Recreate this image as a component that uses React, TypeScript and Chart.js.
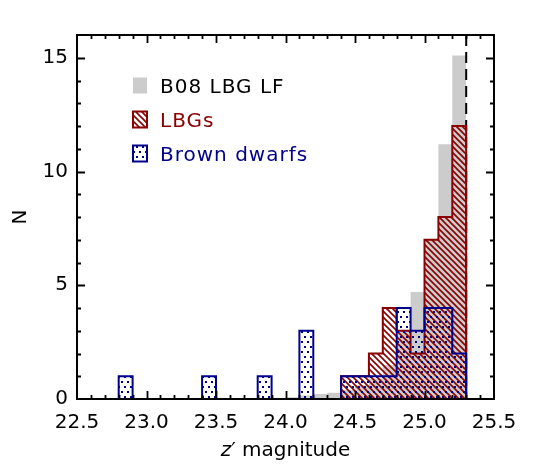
import React, { useEffect, useRef } from "react";
import { Chart, registerables } from "chart.js";

Chart.register(...registerables);

// ---- data ----
const BIN_WIDTH = 0.1;
const lfBins = [24.0, 24.1, 24.2, 24.3, 24.4, 24.5, 24.6, 24.7, 24.8, 24.9, 25.0, 25.1, 25.2];
const lfCounts = [0.08, 0.15, 0.22, 0.28, 0.4, 0.6, 0.9, 1.5, 3.0, 4.7, 7.0, 11.2, 15.1];
const lbgBins = [24.4, 24.5, 24.6, 24.7, 24.8, 24.9, 25.0, 25.1, 25.2];
const lbgCounts = [1, 1, 2, 4, 3, 2, 7, 8, 12];
const bdBins = [22.8, 23.4, 23.8, 24.1, 24.4, 24.5, 24.6, 24.7, 24.8, 24.9, 25.0, 25.1, 25.2];
const bdCounts = [1, 1, 1, 3, 1, 1, 1, 1, 4, 3, 4, 4, 2];
const xTicks = [22.5, 23.0, 23.5, 24.0, 24.5, 25.0, 25.5];
const yTicks = [0, 5, 10, 15];
const limitMag = 25.3;
const legendLabels = ["B08 LBG LF", "LBGs", "Brown dwarfs"];
const xTitleItalic = "z";
const xTitleRest = "\u2032 magnitude";
const yTitle = "N";

const X_MIN = 22.5;
const X_MAX = 25.5;
const Y_MIN = 0;
const Y_MAX = 16;

const GRAY = "#cccccc";
const DARKRED = "#8b0000";
const NAVY = "#00008b";
const FONT = "'DejaVu Sans', sans-serif";

function stepPoints(starts: number[], counts: number[], width: number) {
  const pts: { x: number; y: number }[] = [];
  let end: number | null = null;
  starts.forEach((s, i) => {
    if (end === null || Math.abs(end - s) > 1e-6) {
      if (end !== null) pts.push({ x: end, y: 0 });
      pts.push({ x: s, y: 0 });
    }
    pts.push({ x: s, y: counts[i] });
    end = Math.round((s + width) * 1000) / 1000;
  });
  if (end !== null) pts.push({ x: end, y: 0 });
  return pts;
}

function makeHatch(ctx: CanvasRenderingContext2D, color: string) {
  const c = document.createElement("canvas");
  c.width = 6;
  c.height = 6;
  const g = c.getContext("2d")!;
  g.strokeStyle = color;
  g.lineWidth = 1.6;
  g.beginPath();
  g.moveTo(-1, -1);
  g.lineTo(7, 7);
  g.moveTo(-1, 5);
  g.lineTo(1, 7);
  g.moveTo(5, -1);
  g.lineTo(7, 1);
  g.stroke();
  return ctx.createPattern(c, "repeat")!;
}

function makeDots(ctx: CanvasRenderingContext2D, color: string) {
  const c = document.createElement("canvas");
  c.width = 6;
  c.height = 10;
  const g = c.getContext("2d")!;
  g.fillStyle = color;
  g.fillRect(1, 1, 2, 2);
  g.fillRect(4, 6, 2, 2);
  return ctx.createPattern(c, "repeat")!;
}

export default function App() {
  const ref = useRef<HTMLCanvasElement | null>(null);

  useEffect(() => {
    const canvas = ref.current!;
    const ctx = canvas.getContext("2d")!;
    const hatch = makeHatch(ctx, DARKRED);
    const dots = makeDots(ctx, NAVY);

    const framePlugin = {
      id: "frame",
      afterDatasetDraw(chart: any, args: any) {
        if (args.index !== 2) return;
        const c = chart.ctx;
        const a = chart.chartArea;
        const x = chart.scales.x.getPixelForValue(limitMag);
        c.save();
        c.strokeStyle = "#000";
        c.lineWidth = 2;
        c.setLineDash([11, 6]);
        c.beginPath();
        c.moveTo(x, a.top);
        c.lineTo(x, a.bottom);
        c.stroke();
        c.restore();
      },
      afterDraw(chart: any) {
        const c: CanvasRenderingContext2D = chart.ctx;
        const a = chart.chartArea;
        const xs = chart.scales.x;
        const ys = chart.scales.y;
        c.save();
        c.strokeStyle = "#000";
        c.lineWidth = 2;
        c.setLineDash([]);
        c.strokeRect(a.left, a.top, a.right - a.left, a.bottom - a.top);
        c.lineWidth = 1.8;
        c.beginPath();
        const nx = Math.round((X_MAX - X_MIN) / 0.1);
        for (let i = 1; i < nx; i++) {
          const v = X_MIN + i * 0.1;
          const px = Math.round(xs.getPixelForValue(v)) + 0.5;
          const len = i % 5 === 0 ? 8 : 4;
          c.moveTo(px, a.bottom);
          c.lineTo(px, a.bottom - len);
          c.moveTo(px, a.top);
          c.lineTo(px, a.top + len);
        }
        for (let v = Y_MIN + 1; v < Y_MAX; v++) {
          const py = Math.round(ys.getPixelForValue(v)) + 0.5;
          const len = v % 5 === 0 ? 8 : 4;
          c.moveTo(a.left, py);
          c.lineTo(a.left + len, py);
          c.moveTo(a.right, py);
          c.lineTo(a.right - len, py);
        }
        c.stroke();

        // legend
        const lx = a.left + 56;
        const rows = [a.top + 50.5, a.top + 84.5, a.top + 118.5];
        const fills = [GRAY, hatch, dots];
        const borders = [null, DARKRED, NAVY];
        const colors = ["#000", DARKRED, NAVY];
        c.font = `20px ${FONT}`;
        (c as any).letterSpacing = "1px";
        c.textAlign = "left";
        c.textBaseline = "alphabetic";
        legendLabels.forEach((lab, i) => {
          const cy = rows[i];
          c.fillStyle = fills[i] as any;
          c.fillRect(lx, cy - 8, 14, 16);
          if (borders[i]) {
            c.strokeStyle = borders[i] as string;
            c.lineWidth = 2;
            c.strokeRect(lx, cy - 8, 14, 16);
          }
          c.fillStyle = colors[i];
          c.fillText(lab, lx + 27, cy + 7);
        });
        (c as any).letterSpacing = "0px";

        // x title
        c.fillStyle = "#000";
        c.font = `italic 20px ${FONT}`;
        const w1 = c.measureText(xTitleItalic).width;
        c.font = `20px ${FONT}`;
        const w2 = c.measureText(xTitleRest).width;
        const cx = (a.left + a.right) / 2;
        const startX = cx - (w1 + w2) / 2;
        c.font = `italic 20px ${FONT}`;
        c.fillText(xTitleItalic, startX, 456);
        c.font = `20px ${FONT}`;
        c.fillText(xTitleRest, startX + w1, 456);

        // y title
        c.translate(25.5, (a.top + a.bottom) / 2);
        c.rotate(-Math.PI / 2);
        c.textAlign = "center";
        c.fillText(yTitle, 0, 0);
        c.restore();
      },
    };

    const chart = new Chart(canvas, {
      type: "line",
      data: {
        datasets: [
          {
            label: legendLabels[2],
            data: stepPoints(bdBins, bdCounts, BIN_WIDTH),
            stepped: true,
            borderColor: NAVY,
            borderWidth: 2,
            backgroundColor: dots,
            fill: "origin",
            pointRadius: 0,
            borderJoinStyle: "miter",
            order: 0,
          },
          {
            label: legendLabels[1],
            data: stepPoints(lbgBins, lbgCounts, BIN_WIDTH),
            stepped: true,
            borderColor: DARKRED,
            borderWidth: 2,
            backgroundColor: hatch,
            fill: "origin",
            pointRadius: 0,
            borderJoinStyle: "miter",
            order: 1,
          },
          {
            label: legendLabels[0],
            data: stepPoints(lfBins, lfCounts, BIN_WIDTH),
            stepped: true,
            borderColor: GRAY,
            borderWidth: 0,
            backgroundColor: GRAY,
            fill: "origin",
            pointRadius: 0,
            order: 2,
          },
        ],
      } as any,
      options: {
        animation: false,
        responsive: false,
        devicePixelRatio: 1,
        layout: { padding: { left: 0, top: 35, right: 56, bottom: 0 } },
        plugins: { legend: { display: false }, tooltip: { enabled: false } },
        scales: {
          x: {
            type: "linear",
            min: X_MIN,
            max: X_MAX,
            grid: { display: false, drawTicks: false },
            border: { display: false },
            afterBuildTicks: (s: any) => {
              s.ticks = xTicks.map((v) => ({ value: v }));
            },
            afterFit: (s: any) => {
              s.height = 73;
            },
            ticks: {
              autoSkip: false,
              maxRotation: 0,
              padding: 12,
              color: "#000",
              font: { family: FONT, size: 20 },
              callback: (v: any) => Number(v).toFixed(1),
            },
          },
          y: {
            type: "linear",
            min: Y_MIN,
            max: Y_MAX,
            grid: { display: false, drawTicks: false },
            border: { display: false },
            afterBuildTicks: (s: any) => {
              s.ticks = yTicks.map((v) => ({ value: v }));
            },
            afterFit: (s: any) => {
              s.width = 77;
            },
            ticks: {
              padding: 9,
              color: "#000",
              font: { family: FONT, size: 20 },
              callback: (v: any) => String(v),
            },
          },
        },
      } as any,
      plugins: [framePlugin],
    });
    return () => chart.destroy();
  }, []);

  return (
    <div style={{ position: "fixed", left: 0, top: 0, width: 550, height: 472, background: "#fff" }}>
      <canvas ref={ref} width={550} height={472} style={{ display: "block", width: 550, height: 472 }} />
    </div>
  );
}
